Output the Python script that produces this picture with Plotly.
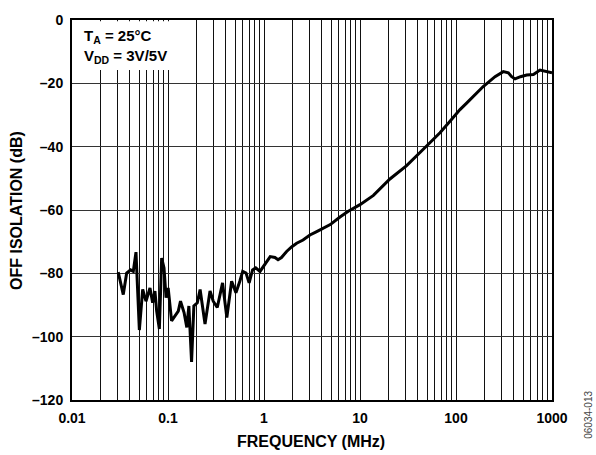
import plotly.graph_objects as go

freq_mhz = [0.0303, 0.0342, 0.0371, 0.0408, 0.0435, 0.0464, 0.0503, 0.0545, 0.059, 0.0649,
            0.0692, 0.0731, 0.0762, 0.0813, 0.0859, 0.0909, 0.0954, 0.1004, 0.109, 0.118,
            0.128, 0.135, 0.147, 0.157, 0.165, 0.176, 0.186, 0.202, 0.216, 0.243,
            0.274, 0.296, 0.326, 0.37, 0.41, 0.46, 0.51, 0.56, 0.60, 0.65,
            0.70, 0.76, 0.82, 0.908, 0.98, 1.07, 1.16, 1.30, 1.40, 1.52,
            1.72, 1.95, 2.19, 2.55, 3.01, 3.5, 4.15, 4.9, 6.19, 7.55,
            10.0, 13.8, 20.5, 30.6, 49.4, 68.1, 86.6, 110, 129, 192,
            255, 311, 351, 380, 412, 470, 545, 640, 750, 860, 1000]
isolation_db = [-79.6, -86.7, -79.9, -78.9, -79.4, -73.3, -97.9, -85.1, -88.8, -84.6,
                -89.3, -85.6, -91.9, -97.6, -75.2, -78.3, -87.7, -84.6, -95.0, -93.4,
                -91.9, -88.8, -92.4, -97.1, -90.3, -108.0, -90.3, -89.3, -85.1, -96.0,
                -85.6, -88.8, -90.8, -83.0, -94.0, -82.5, -86.1, -82.5, -79.4, -79.9,
                -83.0, -78.9, -78.3, -79.4, -77.8, -76.3, -74.7, -75.0, -75.7, -75.0,
                -73.1, -71.6, -70.5, -69.5, -67.9, -66.9, -65.8, -64.6, -62.2, -60.4,
                -58.3, -55.4, -50.2, -46.0, -39.8, -35.6, -32.0, -28.3, -26.25, -21.0,
                -17.9, -16.3, -16.7, -17.9, -18.6, -17.9, -17.4, -17.2, -15.8, -16.3, -16.7]

x_tick_vals = [m * 10 ** e for e in range(-2, 3) for m in range(1, 10)] + [1000]
x_tick_labels = {0.01: "0.01", 0.1: "0.1", 1: "1", 10: "10", 100: "100", 1000: "1000"}
y_tick_vals = [0, -20, -40, -60, -80, -100, -120]
y_tick_text = ["0", "–20", "–40", "–60", "–80", "–100", "–120"]

x_text = []
for v in x_tick_vals:
    lab = ""
    for k, t in x_tick_labels.items():
        if abs(v - k) / k < 1e-6:
            lab = "<b>" + t + "</b>"
    x_text.append(lab)

FONT = "Arial, Liberation Sans, sans-serif"

fig = go.Figure()
fig.add_trace(go.Scatter(x=freq_mhz, y=isolation_db, mode="lines",
                         line=dict(color="black", width=3), showlegend=False))

fig.update_layout(
    width=596, height=455,
    margin=dict(l=72, r=44, t=16, b=55),
    paper_bgcolor="white", plot_bgcolor="white",
    font=dict(family=FONT, size=14, color="black"),
    xaxis=dict(type="log", range=[-2, 3], tickvals=x_tick_vals, ticktext=x_text,
               showgrid=True, gridcolor="#111", gridwidth=1,
               showline=True, linecolor="black", linewidth=2, mirror=True,
               ticks="", ticklabelstandoff=4,
               tickfont=dict(family=FONT, size=14, color="black", weight="bold"),
               zeroline=False),
    yaxis=dict(range=[-120, 0], tickvals=y_tick_vals,
               ticktext=["<b>" + t + "</b>" for t in y_tick_text],
               showgrid=True, gridcolor="#333", gridwidth=1.3,
               showline=True, linecolor="black", linewidth=2, mirror=True,
               ticks="", ticklabelstandoff=4,
               tickfont=dict(family=FONT, size=14, color="black", weight="bold"),
               zeroline=False),
)

fig.add_shape(type="rect", xref="x", yref="y", x0=0.0101, x1=0.104, y0=-15.8, y1=-0.4,
              fillcolor="white", line=dict(width=0), layer="above")
fig.add_annotation(xref="paper", yref="paper", x=0.021, y=0.986, xanchor="left", yanchor="top",
                   align="left", showarrow=False,
                   text="<b>T<sub>A</sub> = 25°C<br>V<sub>DD</sub> = 3V/5V</b>",
                   font=dict(family=FONT, size=15, color="black"))
fig.add_annotation(xref="paper", yref="paper", x=0.498, y=-0.109, xanchor="center", yanchor="middle",
                   showarrow=False, text="<b>FREQUENCY (MHz)</b>",
                   font=dict(family=FONT, size=16, color="black"))
fig.add_annotation(xref="paper", yref="paper", x=-0.1167, y=0.5, xanchor="center", yanchor="middle",
                   showarrow=False, textangle=-90, text="<b>OFF ISOLATION (dB)</b>",
                   font=dict(family=FONT, size=16, color="black"))
fig.add_annotation(xref="paper", yref="paper", x=1.077, y=-0.039, xanchor="center", yanchor="middle",
                   showarrow=False, textangle=-90, text="06034-013",
                   font=dict(family=FONT, size=10, color="#444"))

fig.write_html("out.html")
